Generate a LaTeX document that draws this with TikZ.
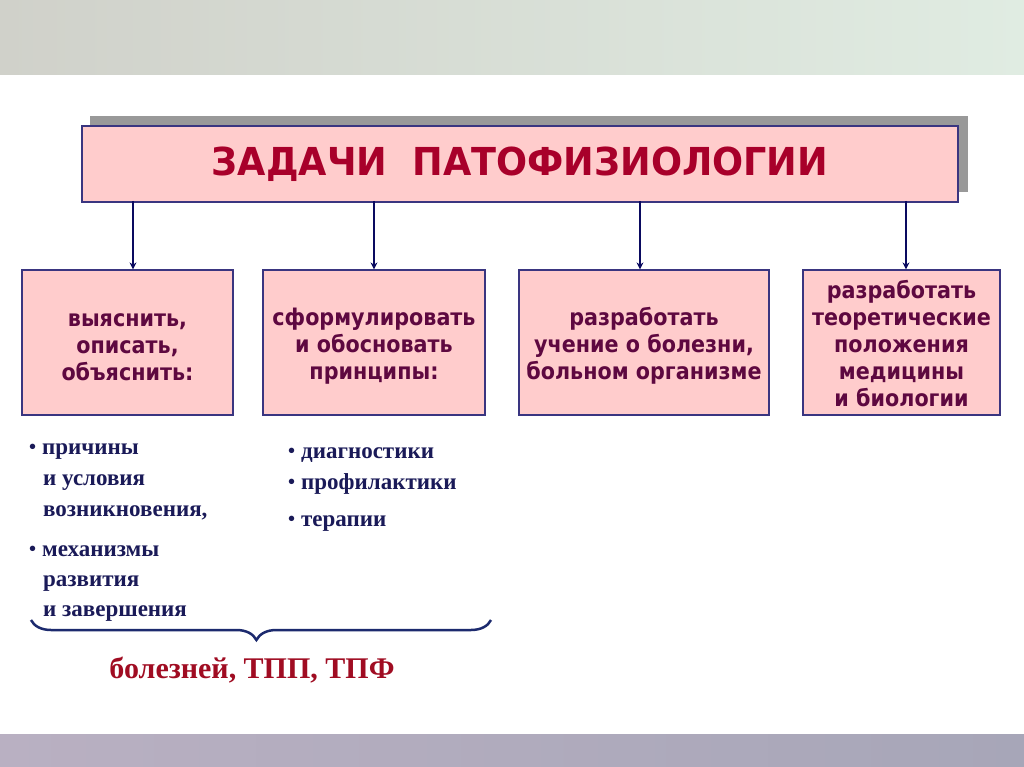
\documentclass[tikz,border=0pt]{standalone}
\usepackage{fontspec}
\setmainfont{Liberation Serif}
\newfontfamily\vfont[FakeStretch=0.9]{DejaVu Sans}
\newfontfamily\tfont[FakeStretch=0.95]{DejaVu Sans}
\usetikzlibrary{decorations.pathreplacing,arrows.meta}
\definecolor{boxfill}{HTML}{FFCCCC}
\definecolor{boxline}{HTML}{3A3580}
\definecolor{titlered}{HTML}{A8002A}
\definecolor{boxtext}{HTML}{5E0840}
\definecolor{navy}{HTML}{0A0A60}
\definecolor{listblue}{HTML}{1A1A58}
\definecolor{bracec}{HTML}{1C2A6E}
\definecolor{bottomred}{HTML}{A00C22}
\definecolor{bandL}{HTML}{D0D1CA}
\definecolor{bandM}{HTML}{F4F6EC}
\definecolor{bandR}{HTML}{E0ECE2}
\definecolor{lowL}{HTML}{B9B0C2}
\definecolor{lowM}{HTML}{BFB3C4}
\definecolor{lowR}{HTML}{A7A6B8}
\newcommand{\bul}{\raisebox{0.2pt}{\fontsize{20}{20}\selectfont •}\hspace{6pt}}
\tikzset{
  box/.style={draw=boxline, line width=1.2pt, fill=boxfill, rectangle, inner sep=0pt},
  boxt/.style={inner sep=0pt, text=boxtext, align=center, font=\vfont\bfseries\fontsize{23}{27}\selectfont},
  arr/.style={draw=navy, line width=2pt, -{Stealth[length=7pt,width=7pt]}},
  li/.style={anchor=base west, inner sep=0pt, text=listblue,
    font=\bfseries\fontsize{23}{30}\selectfont},
}
\begin{document}
\begin{tikzpicture}[x=1pt,y=-1pt]
\useasboundingbox (0,0) rectangle (1024,767);
\fill[white] (0,0) rectangle (1024,767);
% top and bottom bands
\shade[left color=bandL, middle color=bandM, right color=bandR] (0,0) rectangle (1024,75);
\shade[left color=lowL, middle color=lowM, right color=lowR] (0,734) rectangle (1024,767);
% title
\fill[black!40] (90,116) rectangle (968,192);
\node[draw=boxline, line width=1.2pt, fill=boxfill, minimum width=876pt, minimum height=76pt, inner sep=0pt,
  text=titlered, font=\tfont\bfseries\fontsize{38.5}{40}\selectfont] (t) at (520,164) {ЗАДАЧИ\ \ ПАТОФИЗИОЛОГИИ};
% boxes
\node[box, minimum width=211pt, minimum height=145pt] (b1) at (127.5,342.5) {};
\node[box, minimum width=222pt, minimum height=145pt] (b2) at (374,342.5) {};
\node[box, minimum width=250pt, minimum height=145pt] (b3) at (644,342.5) {};
\node[box, minimum width=197pt, minimum height=145pt] (b4) at (901.5,342.5) {};
\node[boxt] (b1t) at ([yshift=-5pt]b1.center) {выяснить,\\описать,\\объяснить:};
\node[boxt] (b2t) at ([yshift=-4pt]b2.center) {сформулировать\\и обосновать\\принципы:};
\node[boxt] (b3t) at ([yshift=-3pt]b3.center) {разработать\\учение о болезни,\\больном организме};
\node[boxt] (b4t) at ([yshift=-1pt]b4.center) {разработать\\теоретические\\положения\\медицины\\и биологии};
% arrows
\coordinate (a1) at (133,201);
\coordinate (a2) at (374,201);
\coordinate (a3) at (640,201);
\coordinate (a4) at (906,201);
\draw[arr] (a1) -- (a1 |- b1.north);
\draw[arr] (a2) -- (a2 |- b2.north);
\draw[arr] (a3) -- (a3 |- b3.north);
\draw[arr] (a4) -- (a4 |- b4.north);
% lists
\node[li] (l1) at (29,454) {\bul причины};
\node[li] (l2) at (43,485) {и условия};
\node[li] (l3) at (43,516) {возникновения,};
\node[li] (l4) at (29,556) {\bul механизмы};
\node[li] (l5) at (43,586) {развития};
\node[li] (l6) at (43,616) {и завершения};
\node[li] (r1) at (288,458) {\bul диагностики};
\node[li] (r2) at (288,489) {\bul профилактики};
\node[li] (r3) at (288,526) {\bul терапии};
% brace
\coordinate (bl) at (31,620);
\coordinate (br) at (491,620);
\draw[bracec, line width=2.5pt, decoration={brace, mirror, amplitude=20pt, aspect=0.49}, decorate] (bl) -- (br);
\node[text=bottomred, font=\bfseries\fontsize{30}{32}\selectfont, inner sep=0pt, anchor=base] (bot) at (252,678) {болезней, ТПП, ТПФ};
\end{tikzpicture}
\end{document}
